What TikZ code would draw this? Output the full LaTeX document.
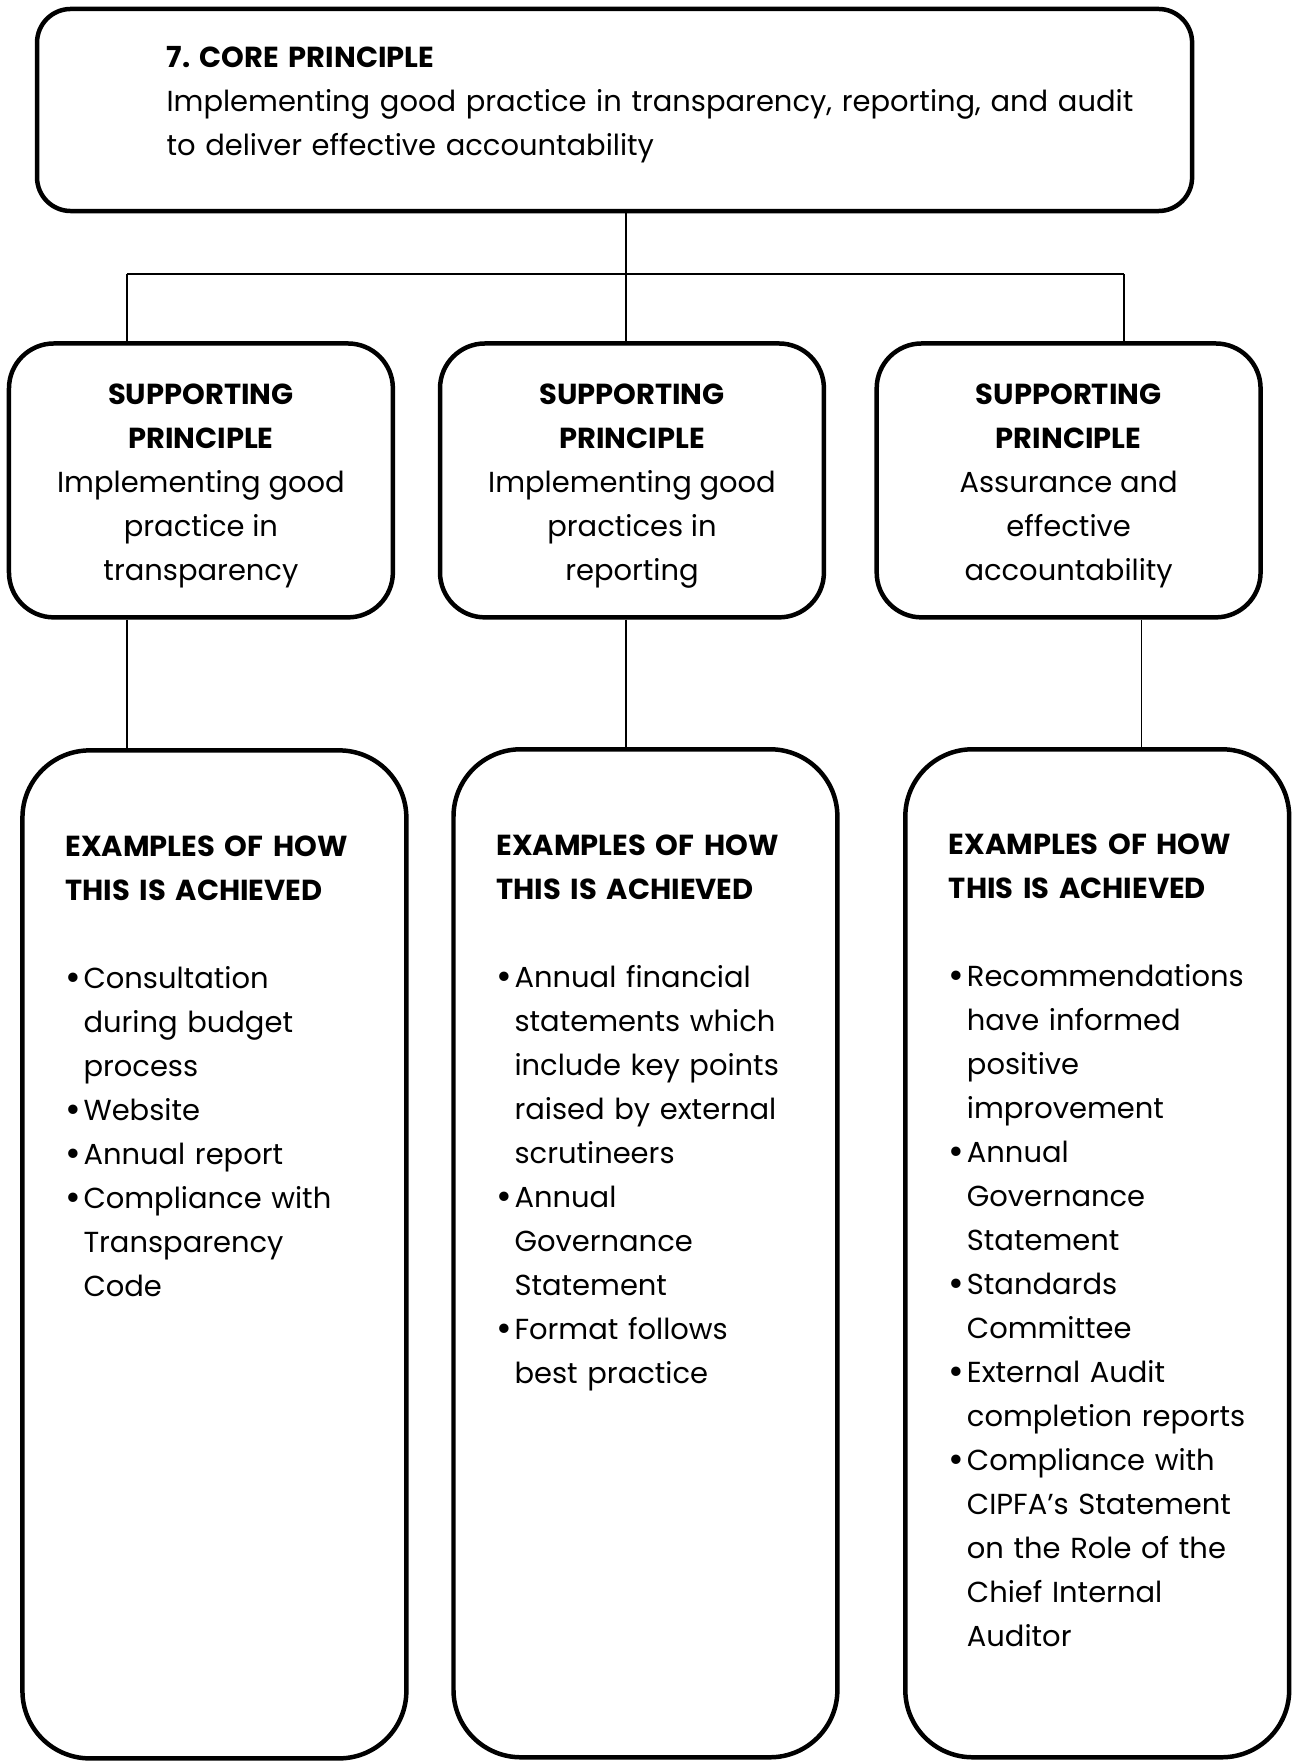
\documentclass[tikz,border=0pt]{standalone}
\usepackage{fontspec}
\setmainfont{Poppins}
\usetikzlibrary{positioning}
\newcommand{\exitem}[1]{\par\hangindent=8pt\hangafter=1\noindent\makebox[8pt][l]{\raisebox{-0.9pt}{\fontsize{17}{19.6}\selectfont\textbullet}}#1\par}

\begin{document}
\begin{tikzpicture}[x=0.5pt, y=-0.5pt,
			every node/.style={font=\fontsize{12.9}{19.6}\selectfont},
			corebox/.style={draw, line width=2pt, rounded corners=15pt, minimum width=514.5pt, minimum height=90pt},
			supbox/.style={draw, line width=2pt, rounded corners=20pt, minimum width=171pt, minimum height=122pt},
			suptext/.style={inner sep=0pt, align=center},
			exbox/.style={draw, line width=2pt, rounded corners=30pt, minimum width=171pt, minimum height=449pt},
			extext/.style={anchor=base west, inner sep=0pt, text width=150pt, align=left},
			link/.style={line width=0.8pt},
		]

		\useasboundingbox (0,0) rectangle (1160,1571.5);

		\node[corebox] (core) at (547.5,98) {};
		\node[anchor=base west, inner sep=0pt, text width=480pt, align=left] (coretext) at (148,60)
			{\textbf{7.\ CORE PRINCIPLE}\\Implementing good practice in transparency, reporting, and audit\\to deliver effective accountability};

		\node[supbox] (sp1) at (179,428) {};
		\node[supbox] (sp2) at (563,428) {};
		\node[supbox] (sp3) at (952,428) {};
		\node[suptext] (sp1text) at (179,433) {\textbf{SUPPORTING}\\\textbf{PRINCIPLE}\\Implementing good\\practice in\\transparency};
		\node[suptext] (sp2text) at (563,433) {\textbf{SUPPORTING}\\\textbf{PRINCIPLE}\\Implementing good\\practices in\\reporting};
		\node[suptext] (sp3text) at (952,433) {\textbf{SUPPORTING}\\\textbf{PRINCIPLE}\\Assurance and\\effective\\accountability};

		\node[exbox] (ex1) at (191,1117.5) {};
		\node[exbox] (ex2) at (575,1116.5) {};
		\node[exbox] (ex3) at (977.5,1116.5) {};

		\node[extext] (ex1text) at (58,763) {\textbf{EXAMPLES OF HOW}\\\textbf{THIS IS ACHIEVED}\par\vspace{19.6pt}
			\exitem{Consultation\newline during budget\newline process}
			\exitem{Website}
			\exitem{Annual report}
			\exitem{Compliance with\newline Transparency\newline Code}};
		\node[extext] (ex2text) at (442,762) {\textbf{EXAMPLES OF HOW}\\\textbf{THIS IS ACHIEVED}\par\vspace{19.6pt}
			\exitem{Annual financial\newline statements which\newline include key points\newline raised by external\newline scrutineers}
			\exitem{Annual\newline Governance\newline Statement}
			\exitem{Format follows\newline best practice}};
		\node[extext] (ex3text) at (845,761) {\textbf{EXAMPLES OF HOW}\\\textbf{THIS IS ACHIEVED}\par\vspace{19.6pt}
			\exitem{Recommendations\newline have informed\newline positive\newline improvement}
			\exitem{Annual\newline Governance\newline Statement}
			\exitem{Standards\newline Committee}
			\exitem{External Audit\newline completion reports}
			\exitem{Compliance with\newline CIPFA’s Statement\newline on the Role of the\newline Chief Internal\newline Auditor}};

		\coordinate (jl) at (113,244);
		\coordinate (jm) at (558,244);
		\coordinate (jr) at (1001,244);
		\coordinate (dr) at (1017,600);

		\draw[link] (core.south -| jm) -- (jm);
		\draw[link] (jl) -- (jr);
		\draw[link] (jl) -- (jl |- sp1.north);
		\draw[link] (jm) -- (jm |- sp2.north);
		\draw[link] (jr) -- (jr |- sp3.north);
		\draw[link] (sp1.south -| jl) -- (ex1.north -| jl);
		\draw[link] (sp2.south -| jm) -- (ex2.north -| jm);
		\draw[link] (sp3.south -| dr) -- (ex3.north -| dr);

\end{tikzpicture}
\end{document}
